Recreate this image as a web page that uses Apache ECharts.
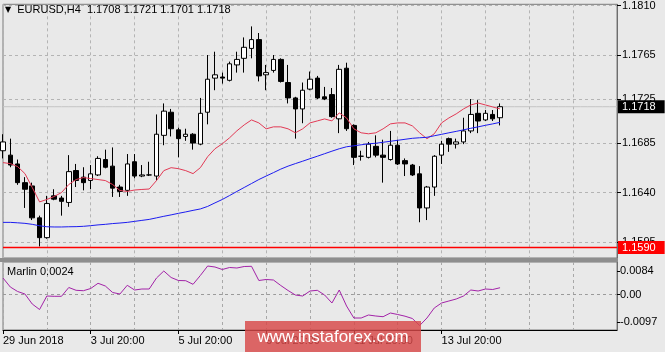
<!DOCTYPE html>
<html><head><meta charset="utf-8">
<script src="https://cdn.jsdelivr.net/npm/echarts@6/dist/echarts.min.js"></script>
<style>html,body{margin:0;padding:0;background:#E9E9E9;}#c{width:665px;height:352px;}</style>
</head><body><div id="c"></div><script>
const symbolName = 'EURUSD,H4';
const open  = [1.1678,1.1674,1.1666,1.1649,1.1646,1.1617,1.1599,1.1637,1.1635,1.1631,1.1660,1.1654,1.1651,1.1656,1.1670,1.1664,1.1645,1.1642,1.1668,1.1655,1.1656,1.1655,1.1692,1.1713,1.1697,1.1691,1.1693,1.1684,1.1713,1.1744,1.1745,1.1742,1.1756,1.1762,1.1771,1.1779,1.1747,1.1751,1.1761,1.1740,1.1726,1.1716,1.1734,1.1744,1.1727,1.1729,1.1707,1.1753,1.1701,1.1673,1.1672,1.1682,1.1674,1.1670,1.1683,1.1669,1.1665,1.1657,1.1626,1.1645,1.1674,1.1689,1.1684,1.1686,1.1696,1.1712,1.1706,1.1711,1.1708];
const high  = [1.1693,1.1689,1.1670,1.1654,1.1649,1.1619,1.1637,1.1643,1.1637,1.1674,1.1666,1.1663,1.1665,1.1673,1.1679,1.1681,1.1647,1.1675,1.1675,1.1665,1.1668,1.1711,1.1721,1.1716,1.1699,1.1698,1.1694,1.1726,1.1765,1.1768,1.1749,1.1759,1.1768,1.1781,1.1791,1.1785,1.1756,1.1765,1.1762,1.1756,1.1727,1.1740,1.1750,1.1746,1.1736,1.1735,1.1756,1.1758,1.1702,1.1678,1.1686,1.1692,1.1688,1.1696,1.1688,1.1671,1.1666,1.1664,1.1646,1.1674,1.1687,1.1690,1.1689,1.1708,1.1725,1.1724,1.1715,1.1715,1.1721];
const low   = [1.1671,1.1663,1.1647,1.1626,1.1615,1.1591,1.1598,1.1633,1.1619,1.1627,1.1645,1.1642,1.1643,1.1655,1.1662,1.1636,1.1636,1.1637,1.1653,1.1654,1.1655,1.1651,1.1683,1.1691,1.1672,1.1687,1.1679,1.1683,1.1702,1.1733,1.1739,1.1741,1.1749,1.1749,1.1762,1.1741,1.1733,1.1749,1.1740,1.1721,1.1689,1.1703,1.1733,1.1725,1.1724,1.1708,1.1694,1.1696,1.1665,1.1669,1.1671,1.1672,1.1649,1.1669,1.1665,1.1655,1.1655,1.1613,1.1615,1.1637,1.1666,1.1677,1.1680,1.1684,1.1694,1.1694,1.1705,1.1705,1.1701];
const close = [1.1686,1.1665,1.1649,1.1643,1.1617,1.1599,1.1630,1.1634,1.1632,1.1659,1.1651,1.1649,1.1657,1.1671,1.1663,1.1644,1.1641,1.1666,1.1655,1.1656,1.1656,1.1693,1.1714,1.1698,1.1689,1.1693,1.1685,1.1712,1.1743,1.1747,1.1744,1.1757,1.1761,1.1772,1.1779,1.1746,1.1749,1.1761,1.1741,1.1726,1.1716,1.1733,1.1743,1.1726,1.1725,1.1709,1.1752,1.1698,1.1672,1.1673,1.1684,1.1674,1.1672,1.1683,1.1666,1.1666,1.1656,1.1626,1.1645,1.1673,1.1684,1.1684,1.1686,1.1696,1.1711,1.1705,1.1712,1.1707,1.1718];
const fastMA = [1.16672,1.16663,1.16636,1.16572,1.16446,1.16315,1.16337,1.16364,1.16400,1.16473,1.16518,1.16536,1.16527,1.16518,1.16509,1.16473,1.16419,1.16410,1.16423,1.16428,1.16432,1.16509,1.16599,1.16626,1.16617,1.16599,1.16572,1.16626,1.16726,1.16798,1.16843,1.16898,1.16961,1.17015,1.17060,1.17033,1.16979,1.16997,1.16997,1.16979,1.16943,1.16979,1.17033,1.17051,1.17069,1.17051,1.17124,1.17078,1.16979,1.16943,1.16934,1.16943,1.16979,1.17024,1.17033,1.17033,1.17006,1.16943,1.16889,1.16934,1.17033,1.17078,1.17115,1.17160,1.17196,1.17214,1.17196,1.17178,1.17160];
const slowMA = [1.16129,1.16129,1.16125,1.16120,1.16111,1.16098,1.16089,1.16087,1.16087,1.16089,1.16090,1.16093,1.16099,1.16106,1.16111,1.16118,1.16123,1.16129,1.16138,1.16147,1.16156,1.16170,1.16184,1.16197,1.16211,1.16224,1.16238,1.16251,1.16274,1.16306,1.16337,1.16373,1.16410,1.16446,1.16482,1.16518,1.16550,1.16581,1.16613,1.16640,1.16663,1.16685,1.16708,1.16730,1.16753,1.16776,1.16798,1.16816,1.16825,1.16834,1.16843,1.16848,1.16857,1.16866,1.16875,1.16884,1.16893,1.16898,1.16902,1.16916,1.16929,1.16943,1.16956,1.16970,1.16984,1.16997,1.17011,1.17024,1.17038];
const marlin = [0.00586,0.00266,0.00107,0.00018,-0.00337,-0.00533,-0.00053,-0.00064,-0.00064,0.00249,0.00149,0.00135,0.00213,0.00398,0.00302,0.00071,0.00018,0.00327,0.00160,0.00195,0.00195,0.00586,0.00834,0.00604,0.00497,0.00490,0.00362,0.00675,0.01012,0.00976,0.00888,0.00959,0.00941,0.00994,0.01001,0.00497,0.00533,0.00515,0.00320,0.00142,-0.00018,-0.00053,0.00124,0.00149,-0.00018,-0.00302,0.00160,-0.00408,-0.00834,-0.00834,-0.00728,-0.00763,-0.00788,-0.00657,-0.00710,-0.00770,-0.00852,-0.01101,-0.00834,-0.00479,-0.00302,-0.00231,-0.00160,-0.00053,0.00160,0.00124,0.00195,0.00178,0.0024];
const slotCount = 85;
const tickLabels = ['29 Jun 2018','3 Jul 20:00','5 Jul 20:00','9 Jul 20:00','11 Jul 20:00','13 Jul 20:00'];
const tickStep = 12;
const gridStep = 6;
const priceTicks = [1.1810,1.1765,1.1725,1.1685,1.1640,1.1595];
const marlinTicks = [0.0084,0,-0.0097];
const marlinZero = 0;
const levelLine = 1.1590;
const priceRange = [1.158051,1.181109];
const marlinRange = [-0.0126,0.01154];

const font = 'Liberation Sans';
const last = close.length - 1;
const cats = Array.from({length: slotCount}, (_, i) => String(i));
const candles = open.map((o, i) => [o, close[i], low[i], high[i]]);
const dash = {color:'#B4B4B4', width:1, type:[3,3]};
const maxTickIdx = tickStep * (tickLabels.length - 1);
const flat = (v) => cats.map(() => v);
const tagLabel = (bg) => ({show:true, distance:1, formatter:(p)=> Number(p.value).toFixed(4),
  backgroundColor:bg, color:'#fff', fontSize:11, fontFamily:font, padding:[1,9,0,4], lineHeight:12});

const chart = echarts.init(document.getElementById('c'), null, {renderer:'canvas'});
chart.setOption({
  animation:false,
  backgroundColor:'#E9E9E9',
  textStyle:{fontFamily:font},
  title:[
    {text:'{t|▼}  ' + symbolName + '  ' + [open[last],high[last],low[last],close[last]].map(v=>v.toFixed(4)).join(' '),
     left:5, top:4, padding:0,
     textStyle:{fontSize:11, fontWeight:'normal', color:'#000', fontFamily:font,
       rich:{t:{fontSize:8, fontFamily:'DejaVu Sans', color:'#000'}}}},
    {text:'Marlin ' + marlin[last].toFixed(4), left:7, top:266, padding:0,
     textStyle:{fontSize:11, fontWeight:'normal', color:'#000', fontFamily:font}}
  ],
  grid:[
    {left:3, right:48, top:3, height:255, show:true, borderColor:'#7a7a7a', borderWidth:1},
    {left:3, right:48, top:262, height:68, show:true, borderColor:'#7a7a7a', borderWidth:1}
  ],
  xAxis:[
    {type:'category', gridIndex:0, data:cats, boundaryGap:false,
     axisLine:{show:false, onZero:false}, axisTick:{show:false}, axisLabel:{show:false},
     splitLine:{show:true, interval:(i)=> i % gridStep === 0, lineStyle:dash}},
    {type:'category', gridIndex:1, data:cats, boundaryGap:false, position:'bottom',
     axisLine:{show:true, onZero:false, lineStyle:{color:'#000', width:1}},
     axisTick:{show:true, interval:(i)=> i % tickStep === 0 && i <= maxTickIdx, length:4, lineStyle:{color:'#000'}},
     axisLabel:{show:true, interval:(i)=> i % tickStep === 0 && i <= maxTickIdx,
       formatter:(v, i)=> tickLabels[Math.round(i / tickStep)] || '',
       align:'left', margin:5, fontSize:11, color:'#000', fontFamily:font},
     splitLine:{show:true, interval:(i)=> i % gridStep === 0, lineStyle:{color:'#A8A8A8', width:1, type:[3,3]}}}
  ],
  yAxis:[
    {type:'value', gridIndex:0, position:'right', min:priceRange[0], max:priceRange[1],
     axisLine:{show:true, lineStyle:{color:'#6e6e6e', width:1}},
     axisTick:{show:true, customValues:priceTicks, length:4, lineStyle:{color:'#000'}},
     axisLabel:{customValues:priceTicks, formatter:(v)=> v.toFixed(4), margin:5, fontSize:11, color:'#000', fontFamily:font},
     splitLine:{show:true, lineStyle:dash}},
    {type:'value', gridIndex:1, position:'right', min:marlinRange[0], max:marlinRange[1],
     axisLine:{show:true, lineStyle:{color:'#6e6e6e', width:1}},
     axisTick:{show:true, customValues:marlinTicks, length:3, lineStyle:{color:'#000'}},
     axisLabel:{customValues:marlinTicks, formatter:(v)=> v === 0 ? '0.00' : v.toFixed(4), margin:3, fontSize:11, color:'#000', fontFamily:font},
     splitLine:{show:false}}
  ],
  series:[
    {type:'line', name:'bid', xAxisIndex:0, yAxisIndex:0, data:flat(close[last]), showSymbol:false, symbol:'none', silent:true, z:1,
     lineStyle:{color:'#C4C4C4', width:1}, itemStyle:{color:'#C4C4C4'}, endLabel:tagLabel('#000000')},
    {type:'line', name:'level', xAxisIndex:0, yAxisIndex:0, data:flat(levelLine), showSymbol:false, symbol:'none', silent:true, z:3,
     lineStyle:{color:'#FF0000', width:1.5}, itemStyle:{color:'#FF0000'}, endLabel:tagLabel('#FF0000')},
    {type:'line', name:'zero', xAxisIndex:1, yAxisIndex:1, data:flat(marlinZero), showSymbol:false, symbol:'none', silent:true, z:1,
     lineStyle:{color:'#9A9A9A', width:1, type:[3,3]}, itemStyle:{color:'#9A9A9A'}},
    {type:'candlestick', xAxisIndex:0, yAxisIndex:0, data:candles, barWidth:5,
     itemStyle:{color:'#FFFFFF', color0:'#000000', borderColor:'#000000', borderColor0:'#000000', borderWidth:1}},
    {type:'line', xAxisIndex:0, yAxisIndex:0, data:fastMA, showSymbol:false, symbol:'none',
     lineStyle:{color:'#E23A55', width:1}, itemStyle:{color:'#E23A55'}},
    {type:'line', xAxisIndex:0, yAxisIndex:0, data:slowMA, showSymbol:false, symbol:'none',
     lineStyle:{color:'#1C1CF0', width:1}, itemStyle:{color:'#1C1CF0'}},
    {type:'line', xAxisIndex:1, yAxisIndex:1, data:marlin, showSymbol:false, symbol:'none',
     lineStyle:{color:'#A323A8', width:1}, itemStyle:{color:'#A323A8'}}
  ],
  graphic:[
    {type:'rect', shape:{x:0, y:258, width:618, height:4}, style:{fill:'#8E8E8E'}, z:10},
    {type:'rect', shape:{x:245, y:321, width:176, height:31}, style:{fill:'rgba(216,72,72,0.82)'}, z:20},
    {type:'text', x:333, y:337, style:{text:'www.instaforex.com', fill:'#ffffff', font:'17px "Liberation Sans"', textAlign:'center', textVerticalAlign:'middle'}, z:21}
  ]
});
</script></body></html>
